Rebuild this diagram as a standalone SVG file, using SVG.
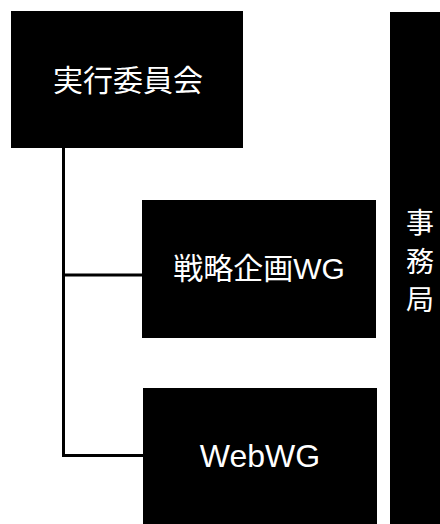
<svg xmlns="http://www.w3.org/2000/svg" width="440" height="524" viewBox="0 0 440 524">
<style>
.box{fill:#000}
.lbl{fill:#fff;font-family:"Liberation Sans","Noto Sans CJK JP",sans-serif;text-anchor:middle}
.ln{stroke:#000;stroke-width:3;fill:none}
</style>
<rect width="440" height="524" fill="#fff"/>
<g id="connectors">
<line class="ln" x1="63.5" y1="146" x2="63.5" y2="457"/>
<line class="ln" x1="63" y1="275" x2="144" y2="275"/>
<line class="ln" x1="63" y1="455.5" x2="145" y2="455.5"/>
</g>
<g id="jikkou">
<rect class="box" x="11" y="11" width="232" height="137"/>
<text class="lbl" x="128" y="80" font-size="30" dominant-baseline="central">実行委員会</text>
</g>
<g id="senryaku">
<rect class="box" x="142" y="200" width="234" height="138"/>
<text class="lbl" x="259" y="268" font-size="30" dominant-baseline="central">戦略企画WG</text>
</g>
<g id="webwg">
<rect class="box" x="143" y="388" width="234" height="136"/>
<text class="lbl" x="260" y="467" font-size="32">WebWG</text>
</g>
<g id="jimukyoku">
<rect class="box" x="390" y="12" width="50" height="512"/>
<text class="lbl" x="420" font-size="28" dominant-baseline="central"><tspan x="420" y="223">事</tspan><tspan x="420" y="262">務</tspan><tspan x="420" y="300">局</tspan></text>
</g>
</svg>
